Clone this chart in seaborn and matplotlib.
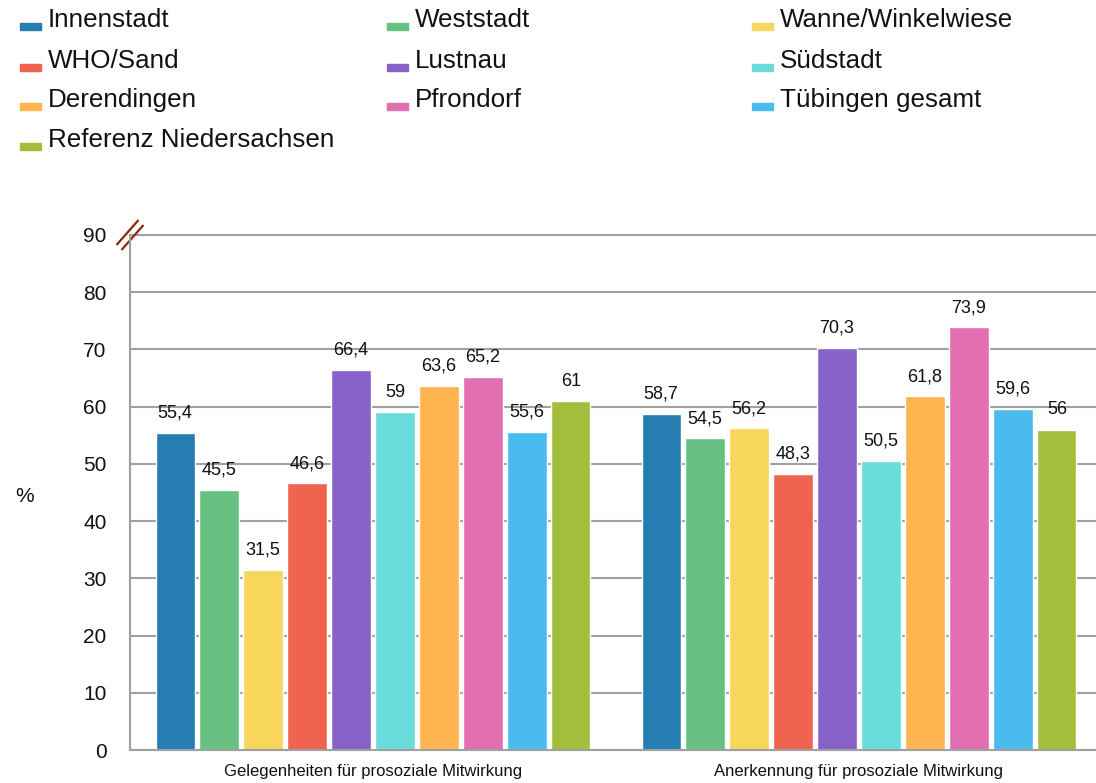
import numpy as np
import pandas as pd
import matplotlib.pyplot as plt
import matplotlib.transforms as mtransforms
from matplotlib.patches import Rectangle
import seaborn as sns


kategorien = ["Gelegenheiten für prosoziale Mitwirkung",
              "Anerkennung für prosoziale Mitwirkung"]

bereiche = ["Innenstadt", "Weststadt", "Wanne/Winkelwiese", "WHO/Sand",
            "Lustnau", "Südstadt", "Derendingen", "Pfrondorf",
            "Tübingen gesamt", "Referenz Niedersachsen"]

gelegenheiten = [55.4, 45.5, 31.5, 46.6, 66.4, 59, 63.6, 65.2, 55.6, 61]
anerkennung = [58.7, 54.5, 56.2, 48.3, 70.3, 50.5, 61.8, 73.9, 59.6, 56]

farben = ["#267DB2", "#68C183", "#F8D55B", "#F0644F", "#8763C9",
          "#69DDDB", "#FEB54F", "#E26FB1", "#4ABBEF", "#A2BE3C"]

yticks = [0, 10, 20, 30, 40, 50, 60, 70, 80, 90]

rows = []
for b, g, a in zip(bereiche, gelegenheiten, anerkennung):
    rows.append({"Kategorie": kategorien[0], "Bereich": b, "Wert": g})
    rows.append({"Kategorie": kategorien[1], "Bereich": b, "Wert": a})
data = pd.DataFrame(rows)

sns.set_style("white")
plt.rcParams['font.family'] = ['Liberation Sans', 'DejaVu Sans']

grau = "#A0A0A0"
schwarz = "#111111"

fig = plt.figure(figsize=(10.96, 7.83), dpi=100)
ax = fig.add_axes([130 / 1096, 1 - 750 / 783, 972 / 1096, 515 / 783])

sns.barplot(data=data, x="Kategorie", y="Wert", hue="Bereich",
            order=kategorien, hue_order=bereiche,
            palette=dict(zip(bereiche, farben)), saturation=1,
            width=0.905, gap=0.11, legend=False, ax=ax)

for cont in ax.containers:
    werte = cont.datavalues
    labels = [f"{v:g}".replace(".", ",") for v in werte]
    ax.bar_label(cont, labels=labels, padding=8, fontsize=13, color=schwarz)

ax.set_ylim(0, 90)
ax.set_xlim(-0.5, 1.5)
ax.set_yticks(yticks)
ax.set_yticklabels([str(t) for t in yticks], fontsize=15)
ax.set_xticks([0, 1])
ax.set_xticklabels(kategorien, fontsize=12)
ax.set_xticks([-0.5, 0.5, 1.5], minor=True)
ax.tick_params(axis="x", which="major", length=0, pad=10, labelcolor=schwarz)
ax.tick_params(axis="x", which="minor", length=9, width=1.5, color=grau)
ax.tick_params(axis="y", length=9, width=1.5, color=grau, pad=8,
               labelcolor=schwarz)
ax.set_xlabel("")
ax.set_ylabel("")

ax.yaxis.grid(True, color=grau, linewidth=1.5)
for gl in ax.get_ygridlines():
    gl.set_clip_on(False)
ax.set_axisbelow(True)
for s in ["top", "right"]:
    ax.spines[s].set_visible(False)
for s in ["left", "bottom"]:
    ax.spines[s].set_color(grau)
    ax.spines[s].set_linewidth(1.5)

fig.text(15 / 1096, 1 - 497 / 783, "%", fontsize=15, va="center", color=schwarz)

# Achsenbruch-Markierung oben links
ecke = mtransforms.ScaledTranslation(0, 1, ax.transAxes)
for d in [-0.025, 0.025]:
    off = mtransforms.ScaledTranslation(-d, d, fig.dpi_scale_trans)
    ax.plot([-0.11, 0.11], [-0.125, 0.125], color="#8B2A0A", lw=1.6,
            transform=fig.dpi_scale_trans + ecke + off,
            clip_on=False, solid_capstyle="butt")

# Legende in drei Spalten, zeilenweise gefuellt
spalten_x = [20, 387, 752]
zeilen_y = [20, 61, 100, 140]
for i, (b, f) in enumerate(zip(bereiche, farben)):
    col = i % 3
    row = i // 3
    x = spalten_x[col]
    y = zeilen_y[row]
    fig.add_artist(Rectangle((x / 1096, 1 - (y + 10) / 783), 21 / 1096, 7 / 783,
                             transform=fig.transFigure, color=f))
    fig.text((x + 28) / 1096, 1 - y / 783, b, fontsize=18.7, va="center",
             color=schwarz)

fig.savefig("out.png", dpi=100)
